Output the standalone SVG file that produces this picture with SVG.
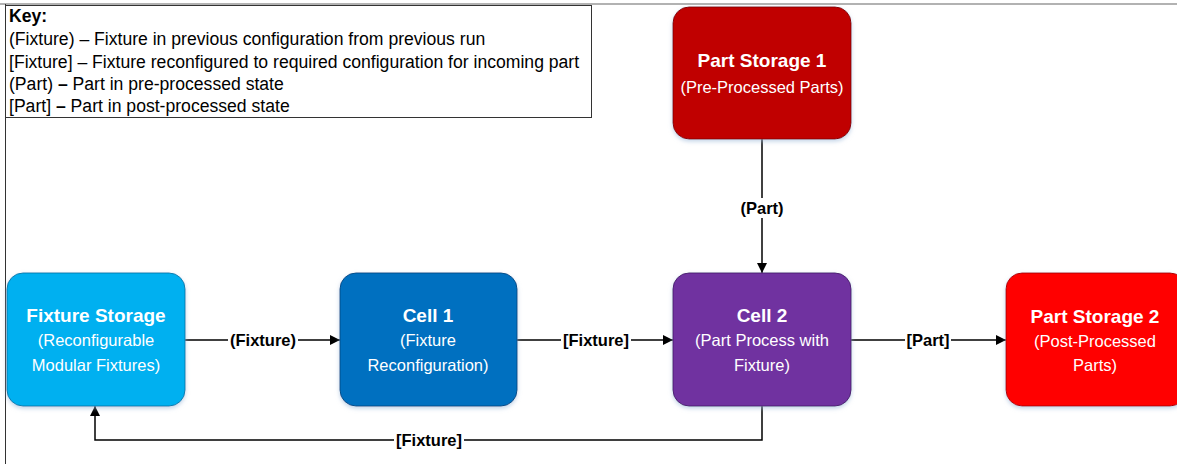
<svg xmlns="http://www.w3.org/2000/svg" width="1177" height="464" viewBox="0 0 1177 464">
<defs>
<marker id="ah" viewBox="0 0 10 10" refX="10" refY="5" markerWidth="10" markerHeight="10" markerUnits="userSpaceOnUse" orient="auto">
<path d="M0,0 L10,5 L0,10 Z" fill="#000"/>
</marker>
<filter id="sh" x="-10%" y="-10%" width="120%" height="125%">
<feDropShadow dx="0" dy="2" stdDeviation="2" flood-color="#9bb7d9" flood-opacity="0.6"/>
</filter>
<style>
text{font-family:"Liberation Sans",Arial,sans-serif}
.key{font-size:17.6px;fill:#000}
.t{font-size:19px;font-weight:bold;fill:#fff;text-anchor:middle}
.s{font-size:16.5px;fill:#fff;text-anchor:middle}
.lbl{font-size:16.5px;font-weight:bold;fill:#000;text-anchor:middle}
.ln{fill:none;stroke:#000;stroke-width:1.5}
.nb{stroke-width:1;filter:url(#sh)}
</style>
</defs>
<rect width="1177" height="464" fill="#fff"/>
<line x1="0" y1="4" x2="1177" y2="4" stroke="#999" stroke-width="1.5"/>
<line x1="5.5" y1="4" x2="5.5" y2="464" stroke="#333" stroke-width="1"/>
<g id="key">
<rect x="5.5" y="5.5" width="586" height="112" fill="#fff" stroke="#333" stroke-width="1"/>
<text class="key" x="9" y="22" font-weight="bold">Key:</text>
<text class="key" x="9" y="45">(Fixture) – Fixture in previous configuration from previous run</text>
<text class="key" x="9" y="68">[Fixture] – Fixture reconfigured to required configuration for incoming part</text>
<text class="key" x="9" y="90">(Part) <tspan font-weight="bold">–</tspan> Part in pre-processed state</text>
<text class="key" x="9" y="112">[Part] <tspan font-weight="bold">–</tspan> Part in post-processed state</text>
</g>
<g id="connectors">
<line class="ln" x1="185" y1="340" x2="340" y2="340" marker-end="url(#ah)"/>
<line class="ln" x1="517" y1="340" x2="673" y2="340" marker-end="url(#ah)"/>
<line class="ln" x1="851" y1="340" x2="1006" y2="340" marker-end="url(#ah)"/>
<line class="ln" x1="762" y1="139" x2="762" y2="273" marker-end="url(#ah)"/>
<polyline class="ln" points="762,406 762,440 95,440 95,406" marker-end="url(#ah)"/>
<rect x="228" y="330" width="70" height="20" fill="#fff"/>
<text class="lbl" x="263" y="346">(Fixture)</text>
<rect x="561" y="330" width="70" height="20" fill="#fff"/>
<text class="lbl" x="596" y="346">[Fixture]</text>
<rect x="905" y="330" width="46" height="20" fill="#fff"/>
<text class="lbl" x="928" y="346">[Part]</text>
<rect x="737" y="198" width="50" height="20" fill="#fff"/>
<text class="lbl" x="762" y="214">(Part)</text>
<rect x="394" y="430" width="70" height="20" fill="#fff"/>
<text class="lbl" x="429" y="446">[Fixture]</text>
</g>
<g id="part-storage-1">
<rect class="nb" x="673" y="7" width="178" height="132" rx="16" fill="#C00000" stroke="#8a0000"/>
<text class="t" x="762" y="67">Part Storage 1</text>
<text class="s" x="762" y="93">(Pre-Processed Parts)</text>
</g>
<g id="fixture-storage">
<rect class="nb" x="7" y="273" width="178" height="133" rx="16" fill="#00B0F0" stroke="#0a7fb0"/>
<text class="t" x="96" y="322">Fixture Storage</text>
<text class="s" x="96" y="346">(Reconfigurable</text>
<text class="s" x="96" y="371">Modular Fixtures)</text>
</g>
<g id="cell-1">
<rect class="nb" x="340" y="273" width="177" height="133" rx="16" fill="#0070C0" stroke="#004f8a"/>
<text class="t" x="428" y="322">Cell 1</text>
<text class="s" x="428" y="346">(Fixture</text>
<text class="s" x="428" y="371">Reconfiguration)</text>
</g>
<g id="cell-2">
<rect class="nb" x="673" y="273" width="178" height="133" rx="16" fill="#7030A0" stroke="#4e1f72"/>
<text class="t" x="762" y="322">Cell 2</text>
<text class="s" x="762" y="346">(Part Process with</text>
<text class="s" x="762" y="371">Fixture)</text>
</g>
<g id="part-storage-2">
<rect class="nb" x="1006" y="273" width="180" height="133" rx="16" fill="#FF0000" stroke="#b00000"/>
<text class="t" x="1095" y="323">Part Storage 2</text>
<text class="s" x="1095" y="347">(Post-Processed</text>
<text class="s" x="1095" y="371">Parts)</text>
</g>
</svg>
